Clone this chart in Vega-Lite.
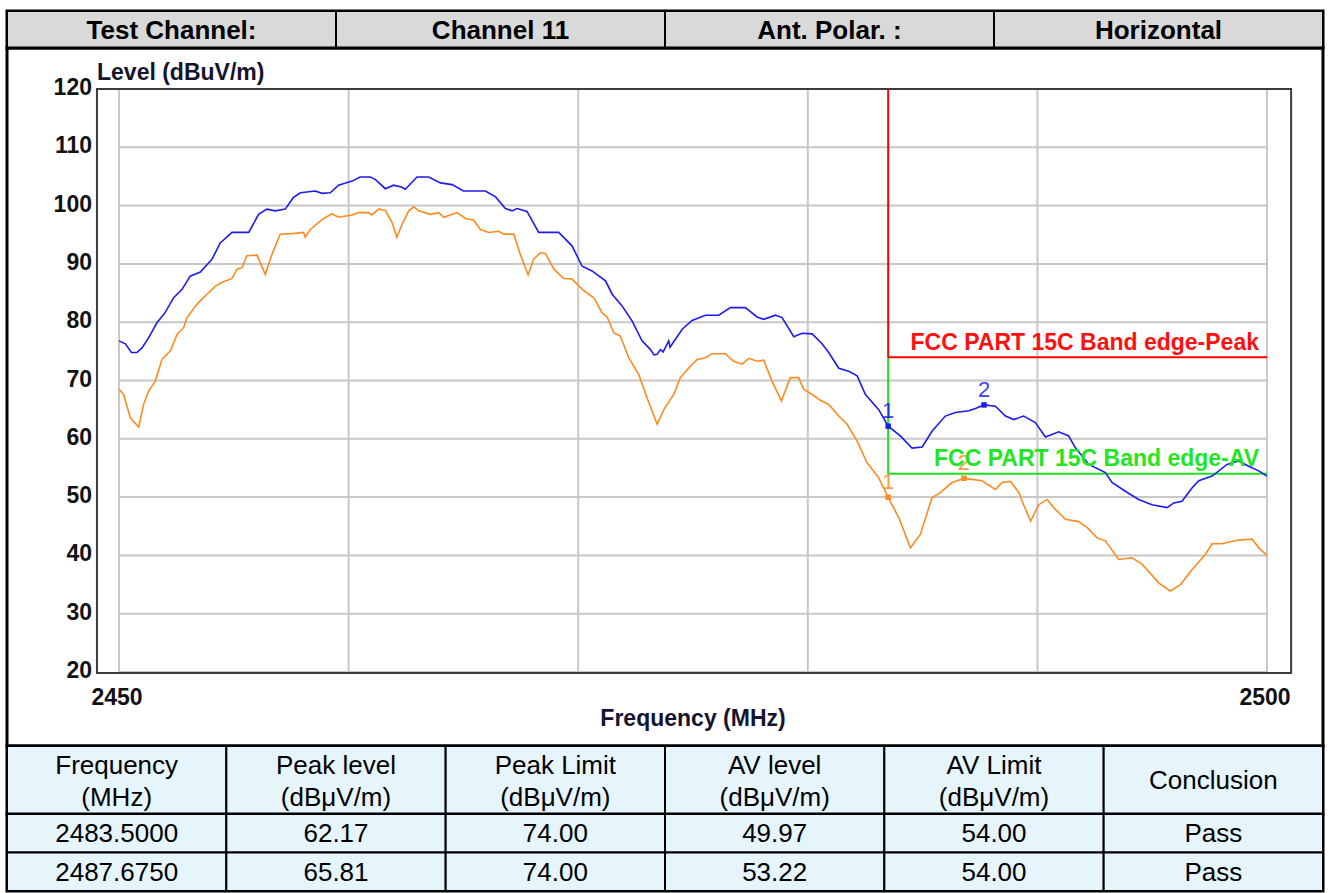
{
  "$schema": "https://vega.github.io/schema/vega-lite/v6.json",
  "padding": {"left": 4, "top": 8, "right": 6, "bottom": 0},
  "background": "#ffffff",
  "spacing": 0,
  "bounds": "flush",
  "config": {"font": "Liberation Sans", "view": {"stroke": "#000000", "strokeWidth": 3}},
  "datasets": {
    "hdr": [
      {"col": 0, "r": 0, "label": "Test Channel:"},
      {"col": 1, "r": 0, "label": "Channel 11"},
      {"col": 2, "r": 0, "label": "Ant. Polar. :"},
      {"col": 3, "r": 0, "label": "Horizontal"}
    ],
    "thead": [
      {"col": 0, "r": 0, "label": "Frequency\n(MHz)"},
      {"col": 1, "r": 0, "label": "Peak level\n(dBμV/m)"},
      {"col": 2, "r": 0, "label": "Peak Limit\n(dBμV/m)"},
      {"col": 3, "r": 0, "label": "AV level\n(dBμV/m)"},
      {"col": 4, "r": 0, "label": "AV Limit\n(dBμV/m)"},
      {"col": 5, "r": 0, "label": "Conclusion"}
    ],
    "tbody": [
      {"row": 1, "col": 0, "val": "2483.5000"}, {"row": 1, "col": 1, "val": "62.17"}, {"row": 1, "col": 2, "val": "74.00"},
      {"row": 1, "col": 3, "val": "49.97"}, {"row": 1, "col": 4, "val": "54.00"}, {"row": 1, "col": 5, "val": "Pass"},
      {"row": 2, "col": 0, "val": "2487.6750"}, {"row": 2, "col": 1, "val": "65.81"}, {"row": 2, "col": 2, "val": "74.00"},
      {"row": 2, "col": 3, "val": "53.22"}, {"row": 2, "col": 4, "val": "54.00"}, {"row": 2, "col": 5, "val": "Pass"}
    ],
    "yticks": [{"v": 20}, {"v": 30}, {"v": 40}, {"v": 50}, {"v": 60}, {"v": 70}, {"v": 80}, {"v": 90}, {"v": 100}, {"v": 110}, {"v": 120}],
    "xgrid": [{"f": 2450}, {"f": 2460}, {"f": 2470}, {"f": 2480}, {"f": 2490}, {"f": 2500}],
    "limits": [
      {"limit": "Peak", "f": 2483.5, "f2": 2483.5, "v": 74, "v2": 120},
      {"limit": "Peak", "f": 2483.5, "f2": 2500, "v": 74, "v2": 74},
      {"limit": "AV", "f": 2483.5, "f2": 2483.5, "v": 54, "v2": 74},
      {"limit": "AV", "f": 2483.5, "f2": 2500, "v": 54, "v2": 54}
    ],
    "limitLabels": [
      {"limit": "Peak", "f": 2500, "v": 74, "label": "FCC PART 15C Band edge-Peak"},
      {"limit": "AV", "f": 2500, "v": 54, "label": "FCC PART 15C Band edge-AV"}
    ],
    "markers": [
      {"s": "Peak", "n": "1", "f": 2483.5, "v": 62.17},
      {"s": "Peak", "n": "2", "f": 2487.675, "v": 65.81},
      {"s": "AV", "n": "1", "f": 2483.5, "v": 49.97},
      {"s": "AV", "n": "2", "f": 2486.8, "v": 53.22}
    ],
    "peak": [
      {"f":2450.0,"v":76.8},{"f":2450.28,"v":76.3},{"f":2450.54,"v":74.8},{"f":2450.78,"v":74.8},{"f":2451.0,"v":75.6},{"f":2451.29,"v":77.3},{"f":2451.65,"v":79.9},{"f":2452.0,"v":81.6},{"f":2452.38,"v":84.2},{"f":2452.74,"v":85.6},{"f":2453.1,"v":87.9},{"f":2453.54,"v":88.6},{"f":2454.05,"v":90.8},{"f":2454.41,"v":93.6},{"f":2454.92,"v":95.4},{"f":2455.65,"v":95.4},{"f":2456.08,"v":98.5},{"f":2456.44,"v":99.4},{"f":2456.8,"v":99.1},{"f":2457.24,"v":99.4},{"f":2457.6,"v":101.4},{"f":2457.9,"v":102.2},{"f":2458.55,"v":102.5},{"f":2458.84,"v":102.1},{"f":2459.2,"v":102.2},{"f":2459.56,"v":103.5},{"f":2460.15,"v":104.2},{"f":2460.5,"v":104.9},{"f":2460.94,"v":104.9},{"f":2461.16,"v":104.5},{"f":2461.6,"v":102.9},{"f":2461.96,"v":103.5},{"f":2462.3,"v":103.2},{"f":2462.47,"v":102.8},{"f":2462.98,"v":104.9},{"f":2463.49,"v":104.9},{"f":2464.0,"v":103.9},{"f":2464.51,"v":103.6},{"f":2465.0,"v":102.5},{"f":2465.96,"v":102.5},{"f":2466.4,"v":101.5},{"f":2466.83,"v":99.5},{"f":2467.12,"v":99.1},{"f":2467.34,"v":99.5},{"f":2467.77,"v":99.0},{"f":2468.28,"v":95.4},{"f":2469.15,"v":95.4},{"f":2469.73,"v":93.1},{"f":2470.17,"v":89.6},{"f":2470.6,"v":88.8},{"f":2471.19,"v":87.1},{"f":2471.48,"v":84.8},{"f":2471.91,"v":82.8},{"f":2472.35,"v":80.2},{"f":2472.78,"v":76.8},{"f":2473.15,"v":75.3},{"f":2473.3,"v":74.4},{"f":2473.44,"v":74.5},{"f":2473.58,"v":75.3},{"f":2473.7,"v":74.9},{"f":2473.94,"v":76.8},{"f":2474.0,"v":75.7},{"f":2474.53,"v":78.8},{"f":2474.96,"v":80.3},{"f":2475.54,"v":81.2},{"f":2476.12,"v":81.2},{"f":2476.63,"v":82.5},{"f":2477.28,"v":82.5},{"f":2477.79,"v":80.9},{"f":2478.08,"v":80.5},{"f":2478.59,"v":81.2},{"f":2478.88,"v":80.8},{"f":2479.39,"v":77.5},{"f":2479.75,"v":78.1},{"f":2480.19,"v":78.0},{"f":2480.62,"v":76.3},{"f":2480.91,"v":74.8},{"f":2481.35,"v":72.1},{"f":2481.78,"v":71.6},{"f":2482.15,"v":70.8},{"f":2482.51,"v":67.6},{"f":2483.09,"v":65.0},{"f":2483.5,"v":62.17},{"f":2484.03,"v":60.5},{"f":2484.54,"v":58.4},{"f":2484.98,"v":58.6},{"f":2485.41,"v":61.3},{"f":2485.99,"v":63.9},{"f":2486.43,"v":64.5},{"f":2487.01,"v":64.8},{"f":2487.3,"v":65.2},{"f":2487.675,"v":65.81},{"f":2488.17,"v":65.6},{"f":2488.61,"v":63.9},{"f":2488.97,"v":63.3},{"f":2489.4,"v":63.9},{"f":2489.91,"v":62.8},{"f":2490.35,"v":60.3},{"f":2490.93,"v":61.2},{"f":2491.36,"v":60.5},{"f":2491.65,"v":58.5},{"f":2492.24,"v":55.6},{"f":2492.96,"v":54.2},{"f":2493.25,"v":52.5},{"f":2493.83,"v":51.0},{"f":2494.41,"v":49.6},{"f":2494.99,"v":48.7},{"f":2495.65,"v":48.2},{"f":2495.94,"v":49.0},{"f":2496.3,"v":49.3},{"f":2496.74,"v":51.6},{"f":2497.03,"v":52.8},{"f":2497.61,"v":53.6},{"f":2498.26,"v":55.6},{"f":2498.77,"v":56.2},{"f":2499.2,"v":55.3},{"f":2499.64,"v":54.5},{"f":2500.0,"v":53.6}
    ],
    "av": [
      {"f":2450.0,"v":68.5},{"f":2450.2,"v":67.6},{"f":2450.49,"v":63.6},{"f":2450.86,"v":62.0},{"f":2451.07,"v":65.9},{"f":2451.29,"v":68.2},{"f":2451.58,"v":69.9},{"f":2451.87,"v":73.6},{"f":2452.24,"v":75.1},{"f":2452.53,"v":77.9},{"f":2452.82,"v":79.1},{"f":2452.96,"v":80.8},{"f":2453.4,"v":83.1},{"f":2453.83,"v":84.8},{"f":2454.2,"v":86.2},{"f":2454.48,"v":86.8},{"f":2454.92,"v":87.5},{"f":2455.14,"v":89.1},{"f":2455.36,"v":89.4},{"f":2455.57,"v":91.4},{"f":2456.01,"v":91.5},{"f":2456.37,"v":88.2},{"f":2456.66,"v":91.6},{"f":2457.02,"v":95.1},{"f":2457.53,"v":95.2},{"f":2458.04,"v":95.4},{"f":2458.11,"v":94.6},{"f":2458.33,"v":95.9},{"f":2458.84,"v":97.6},{"f":2459.27,"v":98.6},{"f":2459.56,"v":98.0},{"f":2460.15,"v":98.4},{"f":2460.44,"v":98.8},{"f":2460.87,"v":98.8},{"f":2461.0,"v":98.4},{"f":2461.31,"v":99.4},{"f":2461.6,"v":99.2},{"f":2461.89,"v":97.1},{"f":2462.1,"v":94.6},{"f":2462.33,"v":96.8},{"f":2462.62,"v":99.1},{"f":2462.84,"v":99.8},{"f":2463.06,"v":99.1},{"f":2463.56,"v":98.5},{"f":2463.93,"v":98.8},{"f":2464.14,"v":98.0},{"f":2464.73,"v":98.8},{"f":2465.09,"v":97.8},{"f":2465.45,"v":97.5},{"f":2465.74,"v":95.9},{"f":2466.1,"v":95.4},{"f":2466.54,"v":95.6},{"f":2466.76,"v":95.1},{"f":2467.19,"v":95.1},{"f":2467.48,"v":91.6},{"f":2467.82,"v":88.1},{"f":2468.06,"v":90.8},{"f":2468.35,"v":91.9},{"f":2468.57,"v":91.8},{"f":2468.94,"v":89.1},{"f":2469.37,"v":87.5},{"f":2469.73,"v":87.4},{"f":2470.24,"v":85.4},{"f":2470.68,"v":84.2},{"f":2471.04,"v":81.6},{"f":2471.26,"v":80.9},{"f":2471.55,"v":78.2},{"f":2471.84,"v":77.6},{"f":2472.2,"v":73.9},{"f":2472.64,"v":71.0},{"f":2473.0,"v":67.0},{"f":2473.44,"v":62.5},{"f":2473.73,"v":65.0},{"f":2474.16,"v":67.6},{"f":2474.45,"v":70.5},{"f":2474.89,"v":72.5},{"f":2475.18,"v":73.6},{"f":2475.54,"v":73.9},{"f":2475.83,"v":74.6},{"f":2476.41,"v":74.6},{"f":2476.77,"v":73.3},{"f":2477.14,"v":72.8},{"f":2477.43,"v":73.8},{"f":2477.79,"v":73.3},{"f":2478.08,"v":73.5},{"f":2478.44,"v":69.9},{"f":2478.85,"v":66.5},{"f":2479.24,"v":70.5},{"f":2479.6,"v":70.5},{"f":2479.82,"v":68.5},{"f":2480.19,"v":67.6},{"f":2480.55,"v":66.6},{"f":2480.91,"v":65.9},{"f":2481.35,"v":63.9},{"f":2481.71,"v":62.5},{"f":2482.15,"v":59.6},{"f":2482.58,"v":55.9},{"f":2483.09,"v":53.3},{"f":2483.5,"v":49.97},{"f":2483.96,"v":46.5},{"f":2484.47,"v":41.3},{"f":2484.9,"v":43.6},{"f":2485.41,"v":49.9},{"f":2485.78,"v":50.8},{"f":2486.28,"v":52.5},{"f":2486.8,"v":53.22},{"f":2487.23,"v":53.0},{"f":2487.59,"v":52.8},{"f":2488.17,"v":51.3},{"f":2488.46,"v":52.5},{"f":2488.82,"v":52.7},{"f":2489.19,"v":50.8},{"f":2489.4,"v":48.7},{"f":2489.7,"v":45.9},{"f":2490.06,"v":48.7},{"f":2490.42,"v":49.6},{"f":2490.71,"v":48.2},{"f":2491.22,"v":46.2},{"f":2491.8,"v":45.8},{"f":2492.16,"v":44.8},{"f":2492.6,"v":43.0},{"f":2492.96,"v":42.5},{"f":2493.54,"v":39.3},{"f":2494.12,"v":39.6},{"f":2494.56,"v":38.5},{"f":2495.28,"v":35.3},{"f":2495.79,"v":33.9},{"f":2496.23,"v":35.0},{"f":2496.74,"v":37.6},{"f":2497.32,"v":40.2},{"f":2497.61,"v":42.0},{"f":2498.04,"v":42.0},{"f":2498.7,"v":42.6},{"f":2499.35,"v":42.8},{"f":2499.64,"v":41.3},{"f":2500.0,"v":40.0}
    ]
  },
  "vconcat": [
    {
      "width": 1316, "height": 37,
      "data": {"name": "hdr"},
      "encoding": {
        "x": {"field": "col", "type": "ordinal", "scale": {"paddingInner": 0, "paddingOuter": 0}, "axis": null},
        "y": {"field": "r", "type": "ordinal", "scale": {"paddingInner": 0, "paddingOuter": 0}, "axis": null}
      },
      "layer": [
        {"mark": {"type": "rect", "fill": "#d9d9d9", "stroke": "#000000", "strokeWidth": 2}},
        {"mark": {"type": "text", "fontWeight": "bold", "fontSize": 26, "align": "center", "baseline": "middle", "dy": 1, "color": "#000000"},
         "encoding": {"text": {"field": "label"}}}
      ]
    },
    {
      "width": 1316, "height": 698,
      "layer": [
        {"data": {"values": [{}]},
         "mark": {"type": "rect", "fill": "#ffffff", "strokeWidth": 0},
         "encoding": {
           "x": {"datum": 2449.04, "type": "quantitative", "scale": {"domain": [2445.122, 2502.439], "nice": false, "zero": false}, "axis": null},
           "x2": {"datum": 2501.05},
           "y": {"datum": 120, "type": "quantitative", "scale": {"domain": [7.31, 127.033], "nice": false, "zero": false}, "axis": null},
           "y2": {"datum": 19.83}
         }},
        {"data": {"name": "yticks"},
         "mark": {"type": "rule", "stroke": "#c8c8c8", "strokeWidth": 2},
         "encoding": {
           "x": {"datum": 2450, "type": "quantitative", "scale": {"domain": [2445.122, 2502.439], "nice": false, "zero": false}, "axis": null},
           "x2": {"datum": 2500},
           "y": {"field": "v", "type": "quantitative", "scale": {"domain": [7.31, 127.033], "nice": false, "zero": false}, "axis": null}
         }},
        {"data": {"name": "xgrid"},
         "mark": {"type": "rule", "stroke": "#c8c8c8", "strokeWidth": 2},
         "encoding": {
           "x": {"field": "f", "type": "quantitative", "scale": {"domain": [2445.122, 2502.439], "nice": false, "zero": false}, "axis": null},
           "y": {"datum": 20, "type": "quantitative", "scale": {"domain": [7.31, 127.033], "nice": false, "zero": false}, "axis": null},
           "y2": {"datum": 120}
         }},
        {"data": {"values": [{}]},
         "mark": {"type": "rect", "fillOpacity": 0, "stroke": "#3c3c3c", "strokeWidth": 2},
         "encoding": {
           "x": {"datum": 2449.04, "type": "quantitative", "scale": {"domain": [2445.122, 2502.439], "nice": false, "zero": false}, "axis": null},
           "x2": {"datum": 2501.05},
           "y": {"datum": 120, "type": "quantitative", "scale": {"domain": [7.31, 127.033], "nice": false, "zero": false}, "axis": null},
           "y2": {"datum": 19.83}
         }},
        {"data": {"name": "limits"},
         "transform": [{"filter": "datum.limit == 'AV'"}],
         "mark": {"type": "rule", "stroke": "#1ee01e", "strokeWidth": 2},
         "encoding": {
           "x": {"field": "f", "type": "quantitative", "scale": {"domain": [2445.122, 2502.439], "nice": false, "zero": false}, "axis": null},
           "x2": {"field": "f2"},
           "y": {"field": "v", "type": "quantitative", "scale": {"domain": [7.31, 127.033], "nice": false, "zero": false}, "axis": null},
           "y2": {"field": "v2"}
         }},
        {"data": {"name": "limits"},
         "transform": [{"filter": "datum.limit == 'Peak'"}],
         "mark": {"type": "rule", "stroke": "#ff0000", "strokeWidth": 2},
         "encoding": {
           "x": {"field": "f", "type": "quantitative", "scale": {"domain": [2445.122, 2502.439], "nice": false, "zero": false}, "axis": null},
           "x2": {"field": "f2"},
           "y": {"field": "v", "type": "quantitative", "scale": {"domain": [7.31, 127.033], "nice": false, "zero": false}, "axis": null},
           "y2": {"field": "v2"}
         }},
        {"data": {"name": "av"},
         "mark": {"type": "line", "stroke": "#ff8a1e", "strokeWidth": 1.6},
         "encoding": {
           "x": {"field": "f", "type": "quantitative", "scale": {"domain": [2445.122, 2502.439], "nice": false, "zero": false}, "axis": null},
           "y": {"field": "v", "type": "quantitative", "scale": {"domain": [7.31, 127.033], "nice": false, "zero": false}, "axis": null}
         }},
        {"data": {"name": "peak"},
         "mark": {"type": "line", "stroke": "#1c1cf0", "strokeWidth": 1.6},
         "encoding": {
           "x": {"field": "f", "type": "quantitative", "scale": {"domain": [2445.122, 2502.439], "nice": false, "zero": false}, "axis": null},
           "y": {"field": "v", "type": "quantitative", "scale": {"domain": [7.31, 127.033], "nice": false, "zero": false}, "axis": null}
         }},
        {"data": {"name": "markers"},
         "mark": {"type": "point", "shape": "square", "filled": true, "size": 30, "opacity": 1},
         "encoding": {
           "x": {"field": "f", "type": "quantitative", "scale": {"domain": [2445.122, 2502.439], "nice": false, "zero": false}, "axis": null},
           "y": {"field": "v", "type": "quantitative", "scale": {"domain": [7.31, 127.033], "nice": false, "zero": false}, "axis": null},
           "color": {"field": "s", "type": "nominal", "scale": {"domain": ["Peak", "AV"], "range": ["#1c1cf0", "#ff8a1e"]}, "legend": null}
         }},
        {"data": {"name": "markers"},
         "mark": {"type": "text", "fontSize": 22, "align": "center", "baseline": "alphabetic", "dy": -8, "opacity": 0.85},
         "encoding": {
           "x": {"field": "f", "type": "quantitative", "scale": {"domain": [2445.122, 2502.439], "nice": false, "zero": false}, "axis": null},
           "y": {"field": "v", "type": "quantitative", "scale": {"domain": [7.31, 127.033], "nice": false, "zero": false}, "axis": null},
           "text": {"field": "n"},
           "color": {"field": "s", "type": "nominal", "scale": {"domain": ["Peak", "AV"], "range": ["#1c1cf0", "#ff8a1e"]}, "legend": null}
         }},
        {"data": {"name": "limitLabels"},
         "transform": [{"filter": "datum.limit == 'Peak'"}],
         "mark": {"type": "text", "fontSize": 23, "fontWeight": "bold", "align": "right", "baseline": "alphabetic", "dx": -8, "dy": -7, "fill": "#ff1010"},
         "encoding": {
           "x": {"field": "f", "type": "quantitative", "scale": {"domain": [2445.122, 2502.439], "nice": false, "zero": false}, "axis": null},
           "y": {"field": "v", "type": "quantitative", "scale": {"domain": [7.31, 127.033], "nice": false, "zero": false}, "axis": null},
           "text": {"field": "label"}
         }},
        {"data": {"name": "limitLabels"},
         "transform": [{"filter": "datum.limit == 'AV'"}],
         "mark": {"type": "text", "fontSize": 23, "fontWeight": "bold", "align": "right", "baseline": "alphabetic", "dx": -8, "dy": -8, "fill": "#22e622"},
         "encoding": {
           "x": {"field": "f", "type": "quantitative", "scale": {"domain": [2445.122, 2502.439], "nice": false, "zero": false}, "axis": null},
           "y": {"field": "v", "type": "quantitative", "scale": {"domain": [7.31, 127.033], "nice": false, "zero": false}, "axis": null},
           "text": {"field": "label"}
         }},
        {"data": {"name": "yticks"},
         "mark": {"type": "text", "fontSize": 23, "fontWeight": "bold", "align": "right", "baseline": "middle", "dx": -27, "dy": -1, "fill": "#111111"},
         "encoding": {
           "x": {"datum": 2450, "type": "quantitative", "scale": {"domain": [2445.122, 2502.439], "nice": false, "zero": false}, "axis": null},
           "y": {"field": "v", "type": "quantitative", "scale": {"domain": [7.31, 127.033], "nice": false, "zero": false}, "axis": null},
           "text": {"field": "v", "type": "quantitative"}
         }},
        {"data": {"name": "xgrid"},
         "transform": [{"filter": "datum.f == 2450 || datum.f == 2500"}],
         "mark": {"type": "text", "fontSize": 23, "fontWeight": "bold", "align": "center", "baseline": "middle", "dx": -2, "dy": 26, "fill": "#111111"},
         "encoding": {
           "x": {"field": "f", "type": "quantitative", "scale": {"domain": [2445.122, 2502.439], "nice": false, "zero": false}, "axis": null},
           "y": {"datum": 20, "type": "quantitative", "scale": {"domain": [7.31, 127.033], "nice": false, "zero": false}, "axis": null},
           "text": {"field": "f", "type": "quantitative", "format": "d"}
         }},
        {"data": {"values": [{"t": "Level (dBuV/m)"}]},
         "mark": {"type": "text", "fontSize": 23, "fontWeight": "bold", "align": "left", "baseline": "middle", "dx": -22, "dy": -16, "fill": "#14142e"},
         "encoding": {
           "x": {"datum": 2450, "type": "quantitative", "scale": {"domain": [2445.122, 2502.439], "nice": false, "zero": false}, "axis": null},
           "y": {"datum": 120, "type": "quantitative", "scale": {"domain": [7.31, 127.033], "nice": false, "zero": false}, "axis": null},
           "text": {"field": "t"}
         }},
        {"data": {"values": [{"t": "Frequency (MHz)"}]},
         "mark": {"type": "text", "fontSize": 23, "fontWeight": "bold", "align": "center", "baseline": "middle", "dy": 47, "fill": "#14142e"},
         "encoding": {
           "x": {"datum": 2475, "type": "quantitative", "scale": {"domain": [2445.122, 2502.439], "nice": false, "zero": false}, "axis": null},
           "y": {"datum": 20, "type": "quantitative", "scale": {"domain": [7.31, 127.033], "nice": false, "zero": false}, "axis": null},
           "text": {"field": "t"}
         }}
      ]
    },
    {
      "width": 1316, "height": 68,
      "data": {"name": "thead"},
      "encoding": {
        "x": {"field": "col", "type": "ordinal", "scale": {"paddingInner": 0, "paddingOuter": 0}, "axis": null},
        "y": {"field": "r", "type": "ordinal", "scale": {"paddingInner": 0, "paddingOuter": 0}, "axis": null}
      },
      "layer": [
        {"mark": {"type": "rect", "fill": "#e6f4fc", "stroke": "#000000", "strokeWidth": 2}},
        {"transform": [{"filter": "datum.col < 5"}],
         "mark": {"type": "text", "fontSize": 26, "align": "center", "baseline": "middle", "lineBreak": "\n", "lineHeight": 32, "dy": -14, "color": "#000000"},
         "encoding": {"text": {"field": "label"}}},
        {"transform": [{"filter": "datum.col == 5"}],
         "mark": {"type": "text", "fontSize": 26, "align": "center", "baseline": "middle", "dy": 1, "color": "#000000"},
         "encoding": {"text": {"field": "label"}}}
      ]
    },
    {
      "width": 1316, "height": 77,
      "data": {"name": "tbody"},
      "encoding": {
        "x": {"field": "col", "type": "ordinal", "scale": {"paddingInner": 0, "paddingOuter": 0}, "axis": null},
        "y": {"field": "row", "type": "ordinal", "scale": {"paddingInner": 0, "paddingOuter": 0}, "axis": null}
      },
      "layer": [
        {"mark": {"type": "rect", "fill": "#e6f4fc", "stroke": "#000000", "strokeWidth": 2}},
        {"mark": {"type": "text", "fontSize": 26, "align": "center", "baseline": "middle", "dy": 1, "color": "#000000"},
         "encoding": {"text": {"field": "val"}}}
      ]
    }
  ]
}
